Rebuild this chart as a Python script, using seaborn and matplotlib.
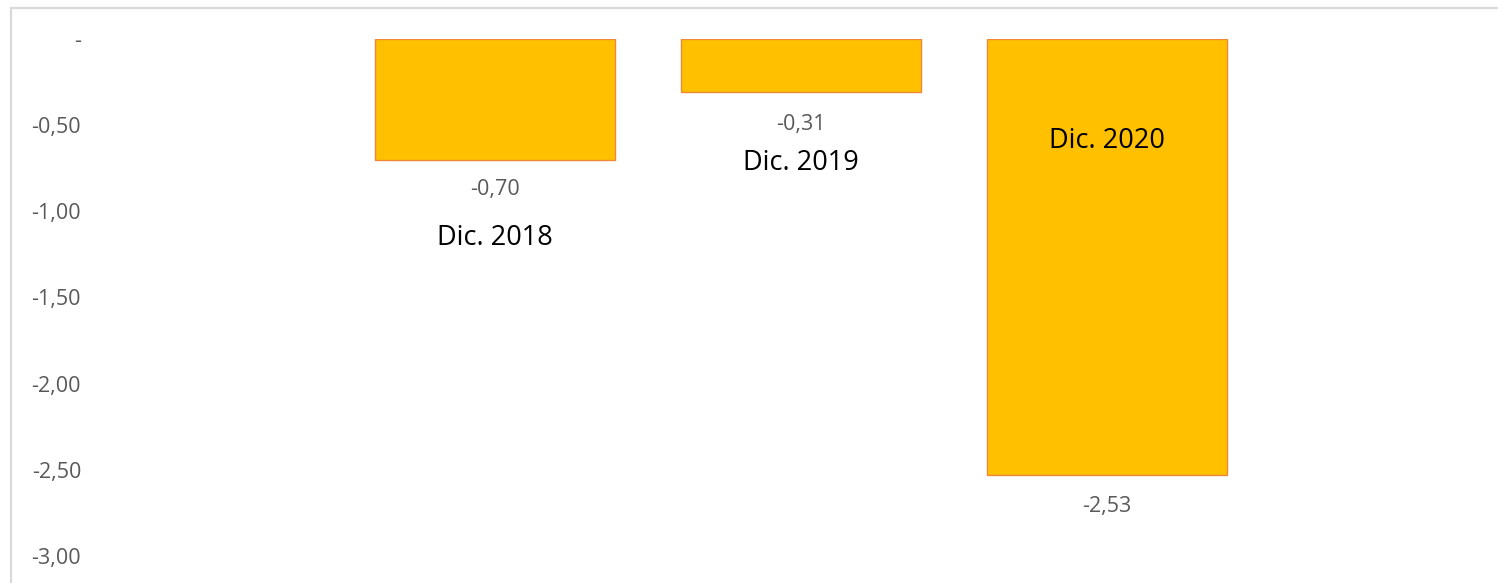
import matplotlib
matplotlib.use("Agg")
import matplotlib.pyplot as plt
import seaborn as sns
import pandas as pd
from matplotlib.patches import Rectangle

# Data
periods = ["Dic. 2018", "Dic. 2019", "Dic. 2020"]
values = [-0.70, -0.31, -2.53]
yticks = [0, -0.5, -1.0, -1.5, -2.0, -2.5, -3.0]
ytick_labels = ["-", "-0,50", "-1,00", "-1,50", "-2,00", "-2,50", "-3,00"]

# label placement (pixels below the bar end / bar top), Excel-like manual layout
value_offsets_px = [30, 32, 31]
period_label_y = [-1.155, -0.72, -0.59]

df = pd.DataFrame({"period": periods, "value": values})

sns.set_theme(style="white")
plt.rcParams["font.family"] = ["Open Sans", "DejaVu Sans"]

W, H = 1498, 583
fig = plt.figure(figsize=(W / 100, H / 100), dpi=100)

# chart container border
fig.patches.append(Rectangle((11 / W, -0.1), 1.2, 1 - 8 / H + 0.1,
                             transform=fig.transFigure, fill=False,
                             edgecolor="#d9d9d9", linewidth=1.6))

ax = fig.add_axes([95 / W, 1 - 556 / H, (W - 95) / W, (556 - 39) / H])

sns.barplot(data=df, x="period", y="value", ax=ax, color="#FFC000",
            width=0.784, saturation=1, edgecolor="#F0883A", linewidth=1.0)

ax.set_xlim((95 - 495) / 306, (W - 495) / 306)
ax.set_ylim(-3.0, 0)
ax.set_yticks(yticks)
ax.set_yticklabels(ytick_labels, color="#595959", fontsize=15.5)
ax.tick_params(axis="y", length=0, pad=10)
ax.set_xticks([])
ax.set_xlabel("")
ax.set_ylabel("")
for s in ax.spines.values():
    s.set_visible(False)
ax.patch.set_alpha(0)

for i, v in enumerate(values):
    ax.annotate(f"{v:.2f}".replace(".", ","), (i, v),
                xytext=(0, -value_offsets_px[i] * 0.72), textcoords="offset points",
                ha="center", va="center", color="#595959", fontsize=15.5)
    ax.text(i, period_label_y[i], periods[i], ha="center", va="center",
            color="black", fontsize=19.5)

fig.savefig("out.png", dpi=100, facecolor="white")
